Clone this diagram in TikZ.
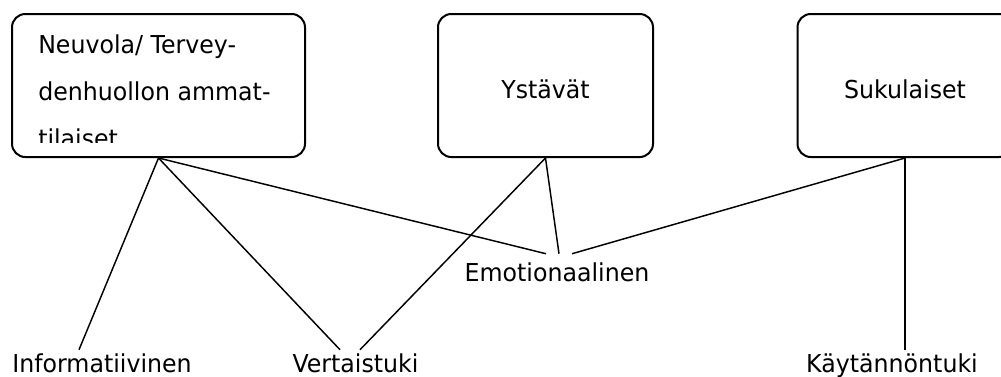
\documentclass[tikz,border=0pt]{standalone}
\usepackage{fontspec}
\setmainfont[FakeStretch=0.96]{DejaVu Sans}
\usetikzlibrary{positioning,calc}

\begin{document}
\begin{tikzpicture}[x=0.75pt, y=-0.75pt,
    group/.style={draw, line width=1.5pt, rounded corners=10pt,
      minimum height=107.25pt, minimum width=161.25pt,
      font=\fontsize{18.5}{22}\selectfont, text height=20pt, text depth=0pt},
    kind/.style={inner sep=0pt, anchor=base,
      font=\fontsize{18.5}{22}\selectfont, text height=16.5pt, text depth=0pt},
    link/.style={line width=1.1pt}]

  \useasboundingbox (0,0) rectangle (1001,376);

  \node[group, minimum width=219.75pt] (neuvola) at (158.5,85.5) {};
  \begin{scope}
    \clip (12,14) rectangle (305,142);
    \node[anchor=base west, align=left, inner sep=0pt,
      font=\fontsize{18.5}{35.25}\selectfont] (neuvolatext) at (38,147)
      {Neuvola/ Tervey-\\denhuollon ammat-\\tilaiset};
  \end{scope}
  \node[group] (ystavat) at (545.5,85.5) {Ystävät};
  \node[group] (suku) at (905,85.5) {Sukulaiset};

  \node[kind] (info) at (102,372) {Informatiivinen};
  \node[kind] (vertais) at (355.5,372) {Vertaistuki};
  \node[kind] (emo) at (557,281) {Emotionaalinen};
  \node[kind] (kaytanto) at (892,372) {Käytännöntuki};

  \draw[link] (neuvola.south) -- ($(info.north)+(-23,0)$);
  \draw[link] (neuvola.south) -- ($(vertais.north)+(-15.5,0)$);
  \draw[link] (neuvola.south) -- ($(emo.north)+(-11,-5)$);
  \draw[link] (ystavat.south) -- ($(vertais.north)+(4.5,0)$);
  \draw[link] (ystavat.south) -- ($(emo.north)+(2,-5)$);
  \draw[link] (suku.south) -- ($(emo.north)+(15,-5)$);
  \draw[link] (suku.south) -- (suku.south |- kaytanto.north);
\end{tikzpicture}
\end{document}
